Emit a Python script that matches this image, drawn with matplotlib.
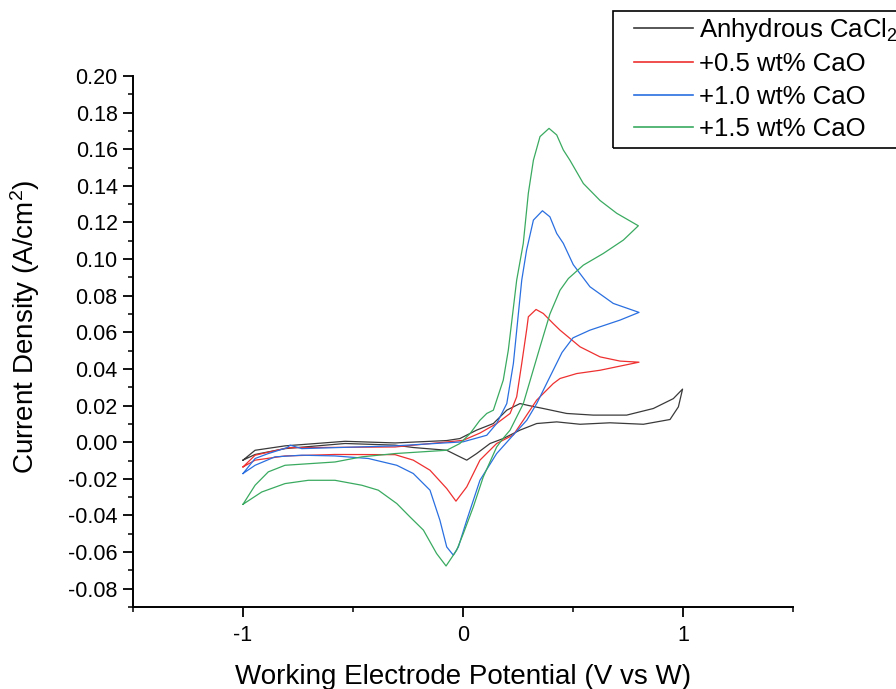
import matplotlib
matplotlib.use("Agg")
import matplotlib.pyplot as plt
from matplotlib.patches import Rectangle
from matplotlib.ticker import MultipleLocator, FormatStrFormatter

# Cyclic voltammograms
# potential in V (vs W), current density in A/cm2, forward sweep then reverse sweep
anhydrous_v = [-1.0, -0.945, -0.809, -0.536, -0.309, -0.074, -0.014, 0.062, 0.138, 0.199, 0.259,
               0.30, 0.365, 0.471, 0.592, 0.744, 0.865, 0.956, 0.998,
               0.979, 0.941, 0.82, 0.668, 0.532, 0.426, 0.335, 0.259, 0.183, 0.123, 0.062, 0.017,
               -0.029, -0.074, -0.226, -0.309, -0.536, -0.809, -0.945, -1.0]
anhydrous_j = [-0.0098, -0.0044, -0.0020, 0.0005, -0.0004, 0.0009, 0.0020, 0.0066, 0.0102, 0.0175, 0.0211,
               0.0200, 0.0184, 0.0157, 0.0148, 0.0148, 0.0184, 0.0238, 0.0290,
               0.0193, 0.0124, 0.0098, 0.0106, 0.0098, 0.0111, 0.0102, 0.0066, 0.0020, -0.0007, -0.0062, -0.0098,
               -0.0071, -0.0044, -0.0029, -0.0016, -0.0007, -0.0035, -0.0067, -0.0098]

cao05_v = [-1.0, -0.945, -0.794, -0.309, 0.0, 0.077, 0.153, 0.214, 0.244, 0.267, 0.29, 0.297, 0.332,
           0.365, 0.41, 0.441, 0.532, 0.623, 0.714, 0.8,
           0.623, 0.517, 0.441, 0.41, 0.335, 0.274, 0.229, 0.153, 0.077, 0.017, -0.032, -0.074,
           -0.15, -0.226, -0.309, -0.582, -0.809, -0.945, -1.0]
cao05_j = [-0.0135, -0.0071, -0.0030, -0.0026, 0.0010, 0.0050, 0.0102, 0.0157, 0.0248, 0.0430, 0.0620, 0.0685, 0.0725,
           0.0703, 0.0648, 0.0612, 0.0521, 0.0466, 0.0443, 0.0437,
           0.0393, 0.0375, 0.0348, 0.0320, 0.0230, 0.0120, 0.0040, -0.0007, -0.0098, -0.0244, -0.0322, -0.0253,
           -0.0153, -0.0098, -0.0068, -0.0067, -0.0075, -0.0098, -0.0135]

cao10_v = [-1.0, -0.945, -0.885, -0.80, -0.786, -0.733, -0.309, 0.0, 0.108, 0.153, 0.199, 0.229, 0.267,
           0.289, 0.32, 0.361, 0.395, 0.426, 0.456, 0.501, 0.577, 0.683, 0.8,
           0.714, 0.577, 0.50, 0.45, 0.395, 0.335, 0.29, 0.229, 0.153, 0.077, 0.017, -0.021, -0.044,
           -0.074, -0.105, -0.15, -0.226, -0.301, -0.43, -0.582, -0.733, -0.855, -0.945, -1.0]
cao10_j = [-0.0171, -0.0089, -0.0062, -0.0030, -0.0016, -0.0035, -0.0020, 0.0002, 0.0038, 0.0102, 0.0211, 0.0430, 0.0885,
           0.1049, 0.1213, 0.1264, 0.1231, 0.1140, 0.1086, 0.0970, 0.0849, 0.0758, 0.0709,
           0.0667, 0.0612, 0.0570, 0.0490, 0.0357, 0.0211, 0.0120, 0.0040, -0.0062, -0.0208, -0.0426, -0.0572, -0.0617,
           -0.0572, -0.0426, -0.0262, -0.0171, -0.0126, -0.0089, -0.0075, -0.0071, -0.0080, -0.0126, -0.0171]

cao15_v = [-1.0, -0.945, -0.885, -0.809, -0.582, -0.46, -0.309, -0.074, -0.014, 0.032, 0.077, 0.108, 0.138,
           0.183, 0.206, 0.244, 0.274, 0.297, 0.32, 0.35, 0.391, 0.426, 0.456, 0.486, 0.547, 0.623, 0.699, 0.797,
           0.729, 0.638, 0.547, 0.479, 0.441, 0.395, 0.35, 0.274, 0.214, 0.183, 0.153, 0.092, 0.047, 0.0015,
           -0.029, -0.077, -0.12, -0.18, -0.241, -0.301, -0.385, -0.46, -0.582, -0.703, -0.809, -0.915, -1.0]
cao15_j = [-0.0339, -0.0235, -0.0162, -0.0126, -0.0108, -0.0080, -0.0062, -0.0044, -0.0007, 0.0047, 0.0120, 0.0157, 0.0175,
           0.0339, 0.0503, 0.0885, 0.1086, 0.1360, 0.1540, 0.1669, 0.1714, 0.1678, 0.1596, 0.1540, 0.1413, 0.1320, 0.1250, 0.1182,
           0.1104, 0.1031, 0.0967, 0.0894, 0.0830, 0.0700, 0.0520, 0.0210, 0.0066, 0.0022, -0.0026, -0.0190, -0.0353, -0.0499,
           -0.0590, -0.0676, -0.0608, -0.0480, -0.0408, -0.0335, -0.0262, -0.0235, -0.0208, -0.0208, -0.0226, -0.0272, -0.0339]

labels = ["Anhydrous CaCl$_2$", "+0.5 wt% CaO", "+1.0 wt% CaO", "+1.5 wt% CaO"]
colors = ["#3a3a3a", "#ee3030", "#2a6fe0", "#3aaa60"]

plt.rcParams["font.family"] = ["Liberation Sans", "DejaVu Sans"]
plt.rcParams["mathtext.fontset"] = "custom"
plt.rcParams["mathtext.rm"] = "Liberation Sans"
plt.rcParams["mathtext.it"] = "Liberation Sans"
plt.rcParams["axes.unicode_minus"] = False

fig = plt.figure(figsize=(8.96, 6.89), dpi=100)
ax = fig.add_axes([133 / 896, 82 / 689, 660 / 896, 531 / 689])

series = [(anhydrous_v, anhydrous_j), (cao05_v, cao05_j), (cao10_v, cao10_j), (cao15_v, cao15_j)]
for (v, j), lab, col in zip(series, labels, colors):
    ax.plot(v, j, color=col, lw=0.9, label=lab)

ax.set_xlim(-1.5, 1.5)
ax.set_ylim(-0.09, 0.20)
ax.xaxis.set_major_locator(MultipleLocator(1))
ax.xaxis.set_minor_locator(MultipleLocator(0.5))
ax.xaxis.set_major_formatter(FormatStrFormatter("%d"))
ax.yaxis.set_major_locator(MultipleLocator(0.02))
ax.yaxis.set_minor_locator(MultipleLocator(0.01))
ax.yaxis.set_major_formatter(FormatStrFormatter("%.2f"))

for side in ["top", "right"]:
    ax.spines[side].set_visible(False)
for side in ["left", "bottom"]:
    ax.spines[side].set_linewidth(1.4)

ax.tick_params(which="major", direction="out", length=7, width=1.3, labelsize=15.5, pad=4)
ax.tick_params(which="minor", direction="out", length=3.8, width=1.1)
ax.tick_params(axis="x", which="major", pad=6)

ax.set_xlabel("Working Electrode Potential (V vs W)", fontsize=20)
ax.set_ylabel("Current Density (A/cm$^2$)", fontsize=20)
ax.xaxis.set_label_coords(0.5, -0.108)
ax.yaxis.set_label_coords(-0.138, 0.527)

# legend frame runs off the right edge like the original
fig.patches.append(Rectangle((613 / 896, 1 - 148 / 689), 0.40, 137 / 689, transform=fig.transFigure,
                             fill=False, edgecolor="black", linewidth=1.2))
leg = fig.legend(loc="upper left", bbox_to_anchor=(634 / 896, 1 - 16 / 689), fontsize=18.5,
                 frameon=False, borderaxespad=0, borderpad=0,
                 handlelength=2.3, handletextpad=0.22, labelspacing=0.33)
for line in leg.get_lines():
    line.set_linewidth(1.2)

fig.savefig("out.png", dpi=100)
